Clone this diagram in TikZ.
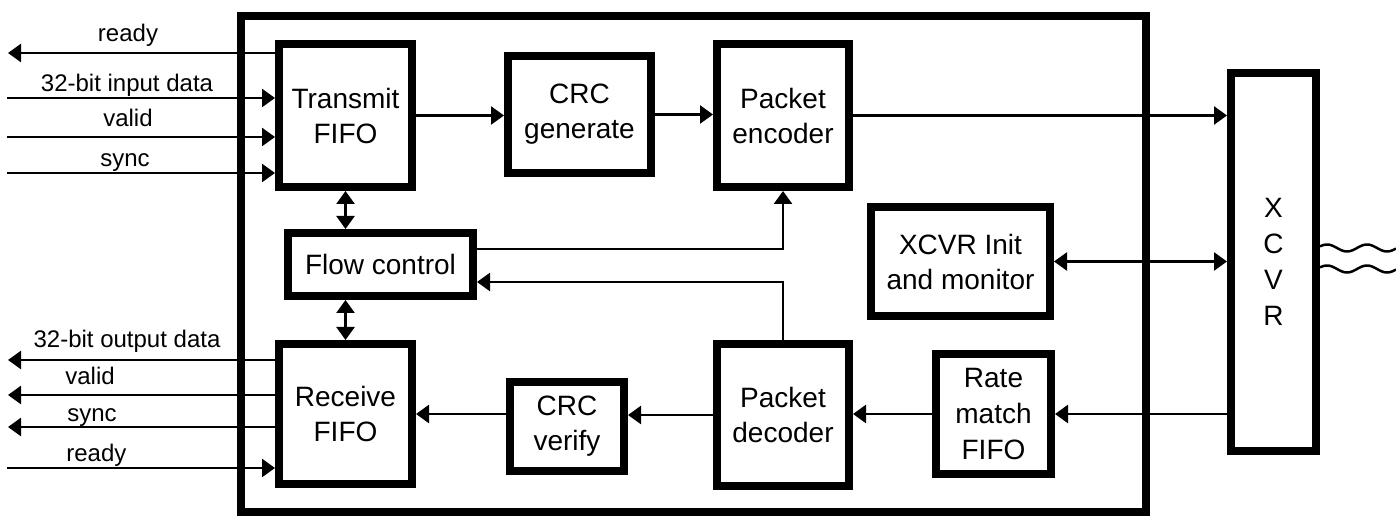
\documentclass[tikz,border=0pt]{standalone}
\usepackage{fontspec}
\setmainfont{Liberation Sans}
\usetikzlibrary{arrows.meta}
\tikzset{
    blk/.style = {draw, line width = 4pt, align = center, inner sep = 0pt, font = \fontsize{14}{17.5}\selectfont},
    sig/.style = {line width = 1.25pt, -{Triangle[length = 6.5pt, width = 9pt]}},
    dsig/.style = {line width = 1.25pt, {Triangle[length = 6.5pt, width = 9pt]}-{Triangle[length = 6.5pt, width = 9pt]}},
    lbl/.style = {inner sep = 0pt, font = \fontsize{12}{14}\selectfont}
}
\begin{document}
\begin{tikzpicture}[x = 0.5pt, y = -0.5pt]
        \useasboundingbox (0,0) rectangle (1396,517);
        \draw [line width = 4pt] (241,16) rectangle (1146,512);
        \node [blk, minimum width = 66.5pt, minimum height = 71.5pt] (tx) at (345.5,115.5) {Transmit\\FIFO};
        \node [blk, minimum width = 71.5pt, minimum height = 58.5pt] (cg) at (579.5,114.5) {CRC\\generate};
        \node [blk, minimum width = 66pt, minimum height = 71.5pt] (pe) at (783,115.5) {Packet\\encoder};
        \node [blk, minimum width = 92.5pt, minimum height = 31.5pt] (fc) at (380.5,264.5) {Flow control};
        \node [blk, minimum width = 89.5pt, minimum height = 54.5pt] (xi) at (960.5,261.5) {XCVR Init\\and monitor};
        \node [blk, minimum width = 66.5pt, minimum height = 70pt] (rx) at (345.5,414) {Receive\\FIFO};
        \node [blk, minimum width = 57pt, minimum height = 44.5pt] (cv) at (567,426.5) {CRC\\verify};
        \node [blk, minimum width = 66pt, minimum height = 71pt] (pd) at (783,415) {Packet\\decoder};
        \node [blk, minimum width = 57.5pt, minimum height = 60pt, font = \fontsize{14}{18}\selectfont] (rm) at (993.5,414) {Rate\\match\\FIFO};
        \node [blk, minimum width = 42.5pt, minimum height = 189pt, font = \fontsize{14}{18}\selectfont] (xcvr) at (1273.5,262) {X\\C\\V\\R};
        % host side, transmit
        \coordinate (txrdy) at (8,53);
        \coordinate (txdat) at (7,98);
        \coordinate (txval) at (7,137);
        \coordinate (txsyn) at (7,173);
        \draw [sig] (tx.west |- txrdy) -- (txrdy);
        \draw [sig] (txdat) -- (txdat -| tx.west);
        \draw [sig] (txval) -- (txval -| tx.west);
        \draw [sig] (txsyn) -- (txsyn -| tx.west);
        \node [lbl, anchor = base] at (128,42) {ready};
        \node [lbl, anchor = base] at (127,92) {32-bit input data};
        \node [lbl, anchor = base] at (128,127) {valid};
        \node [lbl, anchor = base] at (125,167) {sync};
        % host side, receive
        \coordinate (rxdat) at (8,360);
        \coordinate (rxval) at (8,395);
        \coordinate (rxsyn) at (8,427);
        \coordinate (rxrdy) at (7,468);
        \draw [sig] (rx.west |- rxdat) -- (rxdat);
        \draw [sig] (rx.west |- rxval) -- (rxval);
        \draw [sig] (rx.west |- rxsyn) -- (rxsyn);
        \draw [sig] (rxrdy) -- (rxrdy -| rx.west);
        \node [lbl, anchor = base] at (127,348) {32-bit output data};
        \node [lbl, anchor = base west] at (65,385) {valid};
        \node [lbl, anchor = base west] at (67,422) {sync};
        \node [lbl, anchor = base west] at (66,462) {ready};
        % datapath
        \draw [sig] (tx.east) -- (tx.east -| cg.west);
        \draw [sig] (cg.east) -- (cg.east -| pe.west);
        \draw [sig] (pe.east) -- (pe.east -| xcvr.west);
        \draw [dsig] (xi.east) -- (xi.east -| xcvr.west);
        \draw [sig] (xcvr.west |- rm.east) -- (rm.east);
        \draw [sig] (rm.west) -- (rm.west -| pd.east);
        \draw [sig] (pd.west) -- (pd.west -| cv.east);
        \draw [sig] (cv.west |- rx.east) -- (rx.east);
        \draw [dsig] (tx.south) -- (tx.south |- fc.north);
        \draw [dsig] (tx.south |- fc.south) -- (rx.north);
        \draw [sig] ([yshift = 7.75pt]fc.east) -| (pe.south);
        \draw [sig] (pd.north) |- ([yshift = -8.75pt]fc.east);
        % line side
        \draw [line width = 1.25pt] plot [domain = 1320:1396, samples = 60] (\x, {248 - 3.5*cos(9*(\x - 1327))});
        \draw [line width = 1.25pt] plot [domain = 1320:1396, samples = 60] (\x, {269 - 3.5*cos(9*(\x - 1327))});
    \end{tikzpicture}
\end{document}
